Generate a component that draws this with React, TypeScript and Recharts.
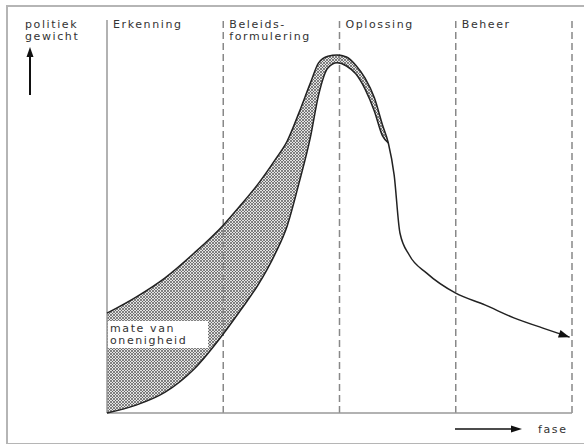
import { Area, ComposedChart, Line, ReferenceLine, XAxis, YAxis } from "recharts";

// fase (0 = start Erkenning, 4 = einde Beheer) en politiek gewicht (0-100)
const fase = [0, 0.25, 0.5, 0.75, 1, 1.15, 1.3, 1.45, 1.55, 1.65, 1.75, 1.82, 1.9, 1.98, 2.06, 2.14, 2.22, 2.3, 2.37, 2.42, 2.47, 2.52, 2.6, 2.75, 3, 3.25, 3.5, 3.75, 3.98];
const bovengrens = [25.4, 29.5, 34.4, 40.7, 47.8, 52.9, 58.3, 64.6, 69.2, 76.3, 84.0, 89.1, 90.8, 91.1, 90.6, 88.5, 85.2, 80.2, 73.3, 68.7, 60.6, 45.8, 40.2, 35.6, 30.5, 27.5, 24.2, 21.6, 19.3];
const ondergrens: (number | null)[] = [0, 2.0, 5.3, 11.2, 20.1, 26.2, 32.6, 40.7, 47.6, 58.3, 70.2, 80.9, 87.8, 89.1, 88.3, 86.3, 82.4, 76.8, 70.5, 68.7, null, null, null, null, null, null, null, null, null];

const fasen = [
  { x: 0, lines: ["Erkenning"], solid: true },
  { x: 1, lines: ["Beleids-", "formulering"], solid: false },
  { x: 2, lines: ["Oplossing"], solid: false },
  { x: 3, lines: ["Beheer"], solid: false },
  { x: 4, lines: [], solid: false },
];

const data = fase.map((x, i) => ({
  x,
  boven: bovengrens[i],
  onder: ondergrens[i],
  band: ondergrens[i] == null ? null : [ondergrens[i], bovengrens[i]],
}));

const font = { fontFamily: "DejaVu Sans", fontSize: 11, letterSpacing: 1.6, fill: "#333" };

function PhaseLabel({ viewBox, lines }: any) {
  if (!viewBox) return null;
  return (
    <text x={viewBox.x + 6} y={viewBox.y + 8} {...font}>
      {lines.map((l: string, i: number) => (
        <tspan key={l} x={viewBox.x + 6} dy={i === 0 ? 0 : 12}>
          {l}
        </tspan>
      ))}
    </text>
  );
}

function ArrowDot(props: any) {
  const { cx, cy, index } = props;
  if (index !== fase.length - 1) return <g key={index} />;
  return (
    <polygon
      key={index}
      points="0,0 -11,-4 -11,4"
      fill="#111"
      transform={`translate(${cx},${cy}) rotate(18)`}
    />
  );
}

const boxText = {
  fontSize: 11,
  letterSpacing: 1.6,
  lineHeight: "12px",
  color: "#333",
};

export default function App() {
  return (
    <div
      style={{
        position: "absolute",
        left: 0,
        top: 0,
        width: 584,
        height: 444,
        background: "#fff",
        overflow: "hidden",
        fontFamily: "DejaVu Sans",
      }}
    >
      <svg width={0} height={0} style={{ position: "absolute" }}>
        <defs>
          <pattern id="arcering" width={3} height={3} patternUnits="userSpaceOnUse">
            <rect width={3} height={3} fill="#e4e4e4" />
            <path d="M0,0 L3,3 M3,0 L0,3" stroke="#555" strokeWidth={0.7} />
          </pattern>
        </defs>
      </svg>
      <div
        style={{
          position: "absolute",
          left: 6,
          top: 5,
          width: 600,
          height: 436,
          border: "2px solid #b5b5b5",
        }}
      />
      <ComposedChart
        width={584}
        height={444}
        data={data}
        margin={{ top: 20, right: 12, bottom: 31, left: 107 }}
        style={{ position: "absolute", left: 0, top: 0 }}
      >
        <XAxis type="number" dataKey="x" domain={[0, 4]} hide />
        <YAxis type="number" domain={[0, 100]} hide />
        {fasen.map((f) => (
          <ReferenceLine
            key={f.x}
            x={f.x}
            stroke={f.solid ? "#999" : "#888"}
            strokeWidth={1.5}
            strokeDasharray={f.solid ? undefined : "7 4"}
            label={(p: any) => <PhaseLabel {...p} lines={f.lines} />}
          />
        ))}
        <ReferenceLine y={0} stroke="#999" strokeWidth={1.5} />
        <Area
          type="monotone"
          dataKey="band"
          stroke="none"
          fill="url(#arcering)"
          fillOpacity={1}
          connectNulls={false}
          isAnimationActive={false}
        />
        <Line
          type="monotone"
          dataKey="onder"
          stroke="#222"
          strokeWidth={1.5}
          dot={false}
          connectNulls={false}
          isAnimationActive={false}
        />
        <Line
          type="monotone"
          dataKey="boven"
          stroke="#222"
          strokeWidth={1.5}
          dot={ArrowDot}
          activeDot={false}
          isAnimationActive={false}
        />
      </ComposedChart>

      <div style={{ position: "absolute", left: 25, top: 19, ...boxText }}>
        politiek
        <br />
        gewicht
      </div>
      <svg width={584} height={444} style={{ position: "absolute", left: 0, top: 0, pointerEvents: "none" }}>
        <line x1={30} y1={95} x2={30} y2={55} stroke="#111" strokeWidth={2} />
        <polygon points="30,47 26.5,57 33.5,57" fill="#111" />
        <line x1={455} y1={429} x2={512} y2={429} stroke="#111" strokeWidth={1.5} />
        <polygon points="522,429 511,425.5 511,432.5" fill="#111" />
        <text x={538} y={433} {...font}>
          fase
        </text>
      </svg>
      <div
        style={{
          position: "absolute",
          left: 108,
          top: 321,
          width: 100,
          height: 27,
          background: "#fff",
          paddingLeft: 2,
          paddingTop: 2,
          boxSizing: "border-box",
          ...boxText,
        }}
      >
        mate van
        <br />
        onenigheid
      </div>
    </div>
  );
}
